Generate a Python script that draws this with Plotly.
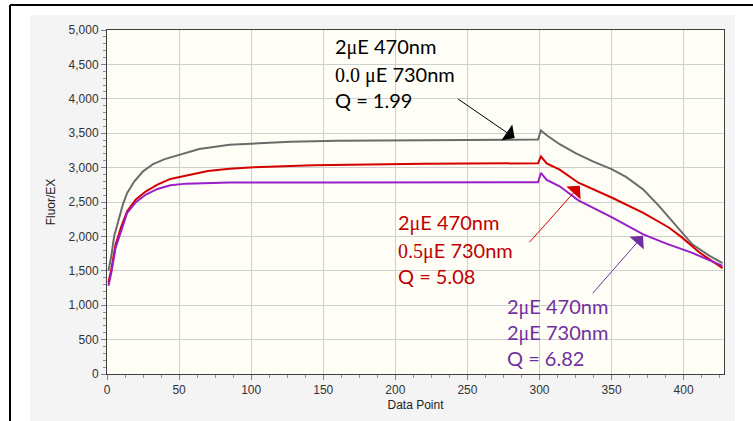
import plotly.graph_objects as go

# ---- data ----
gray_x = [1, 3, 5, 8, 11, 14, 19, 25, 32, 40, 50, 64, 85, 102, 127, 160, 217, 287, 299, 301, 305, 314, 325, 337, 350, 360, 372, 383, 395, 406, 418, 427]
gray_y = [1500, 1717, 2006, 2247, 2464, 2632, 2801, 2946, 3052, 3124, 3187, 3269, 3331, 3346, 3375, 3389, 3399, 3404, 3408, 3539, 3470, 3340, 3211, 3090, 2979, 2864, 2681, 2440, 2150, 1885, 1717, 1611]

red_x = [1, 3, 6, 10, 14, 20, 27, 35, 44, 55, 70, 85, 102, 143, 187, 220, 299, 301, 305, 314, 327, 350, 372, 390, 399, 411, 427]
red_y = [1331, 1524, 1885, 2150, 2367, 2536, 2656, 2753, 2835, 2888, 2950, 2984, 3004, 3033, 3052, 3057, 3063, 3163, 3060, 2970, 2780, 2565, 2343, 2126, 1982, 1765, 1540]

purple_x = [1, 3, 6, 10, 14, 20, 27, 35, 44, 55, 70, 85, 150, 299, 301, 305, 314, 327, 350, 372, 388, 406, 427]
purple_y = [1283, 1476, 1837, 2102, 2343, 2498, 2608, 2690, 2743, 2767, 2778, 2782, 2785, 2787, 2922, 2820, 2729, 2525, 2280, 2030, 1895, 1760, 1572]

x_ticks = [0, 50, 100, 150, 200, 250, 300, 350, 400]
y_ticks = [0, 500, 1000, 1500, 2000, 2500, 3000, 3500, 4000, 4500, 5000]

GRAY = "#6b6b6b"
RED = "#d40000"
PURPLE = "#9a1ec8"
RED_TXT = "#c00000"
PURPLE_TXT = "#7030a0"

fig = go.Figure()
for xs, ys, c in [(gray_x, gray_y, GRAY), (red_x, red_y, RED), (purple_x, purple_y, PURPLE)]:
    fig.add_trace(go.Scatter(x=xs, y=ys, mode="lines", line=dict(color=c, width=2),
                             showlegend=False, hoverinfo="skip"))

W, H = 753, 421
L, R, T, B = 107, 29, 30, 47
pw, ph = W - L - R, H - T - B

def px(xp):
    return (xp - L) / pw

def py(yp):
    return (H - B - yp) / ph

shapes = [
    dict(type="rect", xref="paper", yref="paper", x0=px(30), x1=px(735), y0=py(421), y1=py(15),
         fillcolor="#f4f4f4", line=dict(width=0), layer="below"),
    dict(type="rect", xref="paper", yref="paper", x0=0, x1=1, y0=0, y1=1,
         fillcolor="#fefef6", line=dict(width=0), layer="below"),
    dict(type="line", xref="paper", yref="paper", x0=px(10), x1=px(753), y0=py(5), y1=py(5),
         line=dict(color="black", width=2)),
    dict(type="line", xref="paper", yref="paper", x0=px(10), x1=px(10), y0=py(5), y1=py(421),
         line=dict(color="black", width=2)),
]

SANS = "Lato"

def mu(s):
    return "<span style=\"font-family:'Liberation Serif', 'DejaVu Serif', serif\">%s</span>" % s

texts = [
    ("2" + mu("μ") + "E 470nm", 156.7, 47, "black"),
    (mu("0.0 μ") + "E 730nm", 156.7, 74, "black"),
    ("Q = 1.99", 156.7, 100, "black"),
    ("2" + mu("μ") + "E 470nm", 200.4, 222, RED_TXT),
    (mu("0.5μ") + "E 730nm", 200.4, 250, RED_TXT),
    ("Q = 5.08", 200.4, 276, RED_TXT),
    ("2" + mu("μ") + "E 470nm", 275.9, 306, PURPLE_TXT),
    ("2" + mu("μ") + "E 730nm", 275.9, 332, PURPLE_TXT),
    ("Q = 6.82", 275.9, 358, PURPLE_TXT),
]
annotations = []
for t, xd, ypix, c in texts:
    annotations.append(dict(text=t, x=xd, xref="x", y=py(ypix), yref="paper", xanchor="left",
                            yanchor="middle", showarrow=False, font=dict(family=SANS, size=20, color=c)))

arrows = [
    (242.4, 4013, 282.8, 3431, "black"),
    (292.1, 1892, 328.0, 2735, RED),
    (336.0, 1152, 371.8, 2008, PURPLE_TXT),
]
for ax_, ay_, x_, y_, c in arrows:
    annotations.append(dict(text="", x=x_, y=y_, xref="x", yref="y", ax=ax_, ay=ay_, axref="x", ayref="y",
                            showarrow=True, arrowhead=1, arrowsize=3.2, arrowwidth=1, arrowcolor=c,
                            standoff=0))

axis_common = dict(showline=True, mirror=True, linecolor="#404040", linewidth=1,
                   gridcolor="#cfcfcf", gridwidth=1, ticks="outside", ticklen=5, tickcolor="#808080",
                   tickfont=dict(family="Liberation Sans, Arial", size=12, color="#333333"),
                   zeroline=False, automargin=False)

fig.update_layout(
    width=W, height=H,
    margin=dict(l=L, r=R, t=T, b=B, pad=0),
    paper_bgcolor="white", plot_bgcolor="#fefef6",
    shapes=shapes, annotations=annotations, hovermode=False,
    xaxis=dict(range=[0, 428], tickvals=x_ticks, title=dict(text="Data Point", standoff=4,
               font=dict(family="Liberation Sans, Arial", size=12, color="#222222")),
               minor=dict(dtick=12.5, ticks="outside", ticklen=3, tickcolor="#909090", showgrid=False),
               **axis_common),
    yaxis=dict(range=[0, 5000], tickvals=y_ticks, tickformat=",d",
               title=dict(text="Fluor/EX", standoff=10,
                          font=dict(family="Liberation Sans, Arial", size=12, color="#222222")),
               minor=dict(dtick=100, ticks="outside", ticklen=3, tickcolor="#909090", showgrid=False),
               **axis_common),
)

fig.write_html("out.html", config={"displayModeBar": False},
               post_script="document.body.style.margin='0';document.body.style.overflow='hidden';")
